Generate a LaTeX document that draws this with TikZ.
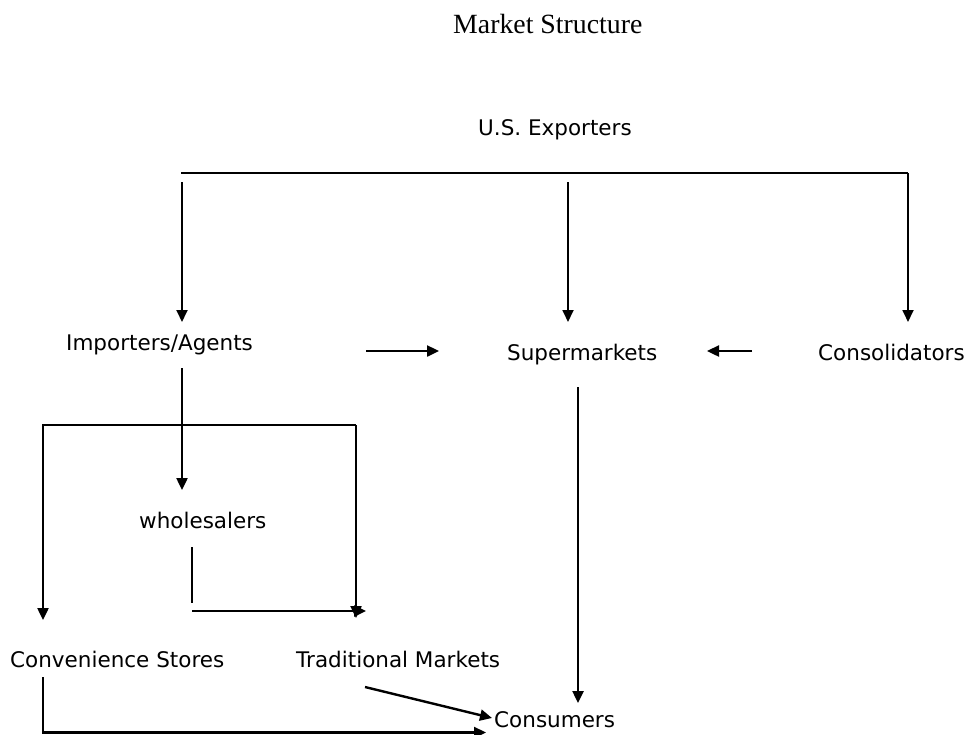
\documentclass[tikz,border=0pt]{standalone}
\usepackage{fontspec}
\setmainfont{Liberation Serif}
\setsansfont{DejaVu Sans}
\usetikzlibrary{arrows.meta}
\tikzset{
  lab/.style={font=\sffamily\fontsize{21.5}{24}\selectfont, inner sep=0pt, anchor=base west},
  ttl/.style={font=\rmfamily\fontsize{27.8}{30}\selectfont, inner sep=0pt, anchor=base west},
  arr/.style={-{Triangle[length=12pt,width=11pt]}},
  thin/.style={line width=1.8pt},
  thick2/.style={line width=2.4pt}
}
\begin{document}
\begin{tikzpicture}[x=1pt,y=-1pt]
\useasboundingbox[fill=white] (0,0) rectangle (966,734);
% labels
\node[ttl] (title) at (453,33) {Market Structure};
\node[lab] (exp) at (478,135) {U.S. Exporters};
\node[lab] (imp) at (66,350) {Importers/Agents};
\node[lab] (sup) at (507,360) {Supermarkets};
\node[lab] (con) at (818,360) {Consolidators};
\node[lab] (who) at (139,528) {wholesalers};
\node[lab] (cvs) at (10,667) {Convenience Stores};
\node[lab] (trd) at (296,667) {Traditional Markets};
\node[lab] (cns) at (494,727) {Consumers};
% coordinates
\coordinate (tl) at (181,173);
\coordinate (tr) at (908,173);
\coordinate (impTop) at (182,182);
\coordinate (impTip) at (182,322);
\coordinate (supTop) at (568,182);
\coordinate (supTip) at (568,322);
\coordinate (conTip) at (908,322);
\coordinate (isA) at (366,351);
\coordinate (isB) at (439,351);
\coordinate (csA) at (752,351);
\coordinate (csB) at (707,351);
\coordinate (iwA) at (182,368);
\coordinate (iwB) at (182,490);
\coordinate (bxL) at (43,425);
\coordinate (bxR) at (356,425);
\coordinate (bxLTip) at (43,620);
\coordinate (bxRTip) at (356,618);
\coordinate (wA) at (192,547);
\coordinate (wB) at (192,603);
\coordinate (wC) at (192,611);
\coordinate (wD) at (366,611);
\coordinate (scA) at (578,387);
\coordinate (scB) at (578,703);
\coordinate (cvA) at (43,677);
\coordinate (cvB) at (43,732.5);
\coordinate (cvC) at (486,732.5);
\coordinate (tcA) at (365,687);
\coordinate (tcB) at (492,718);
% connectors
\draw[thick2] (tl) -- (tr);
\draw[thin,arr] (tr) -- (conTip);
\draw[thin,arr] (impTop) -- (impTip);
\draw[thin,arr] (supTop) -- (supTip);
\draw[thick2,arr] (isA) -- (isB);
\draw[thick2,arr] (csA) -- (csB);
\draw[thick2,arr] (iwA) -- (iwB);
\draw[thick2,arr] (bxR) -- (bxL) -- (bxLTip);
\draw[thick2,arr] (bxR) -- (bxRTip);
\draw[thick2] (wA) -- (wB);
\draw[thick2,arr] (wC) -- (wD);
\draw[thick2,arr] (scA) -- (scB);
\draw[thick2,arr] (cvA) -- (cvB) -- (cvC);
\draw[thick2,arr] (tcA) -- (tcB);
\end{tikzpicture}
\end{document}
